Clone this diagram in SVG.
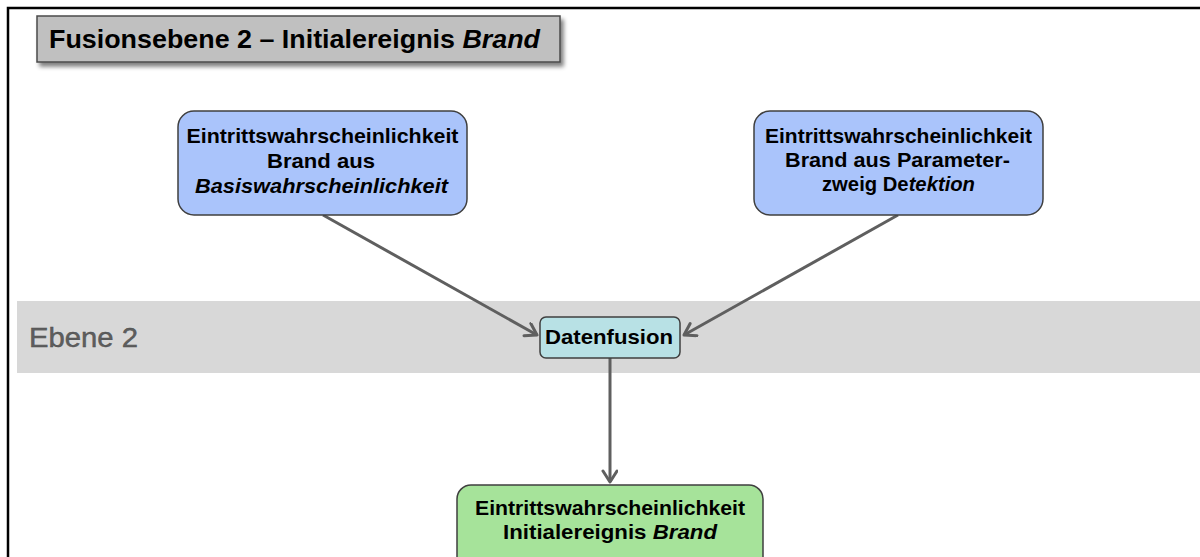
<svg xmlns="http://www.w3.org/2000/svg" width="1200" height="557" viewBox="0 0 1200 557">
  <style>
    .frame { stroke: #000; stroke-width: 2.5; fill: none; }
    .box { stroke: #3f3f3f; stroke-width: 1.5; }
    .blue { fill: #aac4fb; }
    .green { fill: #a6e39a; }
    .cyan { fill: #b8e1e5; }
    .t { font-family: "Liberation Sans", Arial, sans-serif; font-weight: bold; fill: #000; text-anchor: middle; }
    .it { font-style: italic; }
    .edge { stroke: #5f5f5f; stroke-width: 3; fill: none; marker-end: url(#chev); }
  </style>
  <defs>
    <marker id="chev" markerUnits="userSpaceOnUse" markerWidth="20" markerHeight="20" refX="13" refY="8" orient="auto">
      <path d="M2,1 L13,8 L2,15" fill="none" stroke="#5f5f5f" stroke-width="3" stroke-linecap="round" stroke-linejoin="round"/>
    </marker>
    <filter id="drop" x="-5%" y="-20%" width="115%" height="160%">
      <feGaussianBlur in="SourceAlpha" stdDeviation="2"/>
      <feOffset dx="3" dy="4" result="b"/>
      <feComponentTransfer><feFuncA type="linear" slope="0.5"/></feComponentTransfer>
      <feMerge><feMergeNode/><feMergeNode in="SourceGraphic"/></feMerge>
    </filter>
  </defs>

  <rect width="1200" height="557" fill="#fff"/>

  <!-- level band -->
  <g id="band">
    <rect x="17" y="301" width="1183" height="72" fill="#d8d8d8"/>
    <text x="29" y="347" font-family="Liberation Sans, Arial, sans-serif" font-size="27" fill="#5e5e5e" stroke="#4a4a4a" stroke-width="0.4" textLength="109" lengthAdjust="spacingAndGlyphs">Ebene 2</text>
  </g>

  <!-- page frame -->
  <path class="frame" d="M8,557 L8,8 L1200,8"/>

  <!-- heading -->
  <g id="title">
    <rect x="37" y="16" width="523" height="46" fill="#c0c0c0" stroke="#4a4a4a" stroke-width="1.5" filter="url(#drop)"/>
    <text class="t" x="49" y="48" font-size="25" style="text-anchor:start" textLength="491" lengthAdjust="spacingAndGlyphs">Fusionsebene 2 – Initialereignis <tspan class="it">Brand</tspan></text>
  </g>

  <!-- connectors -->
  <g id="connectors">
    <line class="edge" x1="323" y1="215" x2="537" y2="335"/>
    <line class="edge" x1="898" y1="215" x2="684" y2="335"/>
    <line class="edge" x1="610" y1="358" x2="610" y2="482"/>
  </g>

  <g id="node-basis">
    <rect class="box blue" x="178" y="111" width="289" height="104" rx="16"/>
    <text class="t" x="322.5" y="143" font-size="21" textLength="272" lengthAdjust="spacingAndGlyphs">Eintrittswahrscheinlichkeit</text>
    <text class="t" x="321" y="168" font-size="21" textLength="108" lengthAdjust="spacingAndGlyphs">Brand aus</text>
    <text class="t it" x="321.5" y="193" font-size="21" textLength="253" lengthAdjust="spacingAndGlyphs">Basiswahrscheinlichkeit</text>
  </g>

  <g id="node-detektion">
    <rect class="box blue" x="754" y="111" width="289" height="104" rx="16"/>
    <text class="t" x="898.5" y="143" font-size="21" textLength="267" lengthAdjust="spacingAndGlyphs">Eintrittswahrscheinlichkeit</text>
    <text class="t" x="897.5" y="167" font-size="21" textLength="225" lengthAdjust="spacingAndGlyphs">Brand aus Parameter-</text>
    <text class="t" x="898.5" y="191" font-size="21" textLength="153" lengthAdjust="spacingAndGlyphs">zweig De<tspan class="it">tektion</tspan></text>
  </g>

  <g id="node-datenfusion">
    <rect class="box cyan" x="540" y="317" width="140" height="41" rx="6"/>
    <text class="t" x="609" y="344" font-size="21" textLength="128" lengthAdjust="spacingAndGlyphs">Datenfusion</text>
  </g>

  <g id="node-initialereignis">
    <rect class="box green" x="457" y="485" width="306" height="90" rx="14"/>
    <text class="t" x="610" y="515" font-size="21" textLength="270" lengthAdjust="spacingAndGlyphs">Eintrittswahrscheinlichkeit</text>
    <text class="t" x="610" y="539" font-size="21" textLength="214" lengthAdjust="spacingAndGlyphs">Initialereignis <tspan class="it">Brand</tspan></text>
  </g>
</svg>
